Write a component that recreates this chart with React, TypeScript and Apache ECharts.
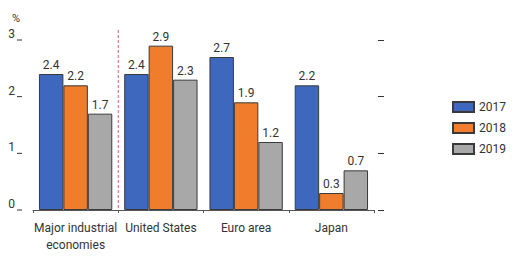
import React, { useEffect, useRef } from "react";
import * as echarts from "echarts";

const categories = ["Major industrial\neconomies", "United States", "Euro area", "Japan"];
const years = ["2017", "2018", "2019"];
const values2017 = [2.4, 2.4, 2.7, 2.2];
const values2018 = [2.2, 2.9, 1.9, 0.3];
const values2019 = [1.7, 2.3, 1.2, 0.7];
const colors = ["#3d68bd", "#f07d2b", "#a8a8a8"];
const yTicks = [0, 1, 2, 3];

const FONT = "'Roboto', sans-serif";

export default function App() {
  const ref = useRef<HTMLDivElement>(null);
  useEffect(() => {
    if (!ref.current) return;
    const chart = echarts.init(ref.current, null, { renderer: "svg" });
    const seriesData = [values2017, values2018, values2019];
    chart.setOption({
      animation: false,
      textStyle: { fontFamily: FONT },
      title: {
        text: "%",
        left: 7,
        top: 8,
        textStyle: { fontSize: 11, color: "#333", fontWeight: "normal", fontFamily: FONT },
      },
      grid: { left: 33, right: 151, top: 40, bottom: 48 },
      legend: {
        orient: "vertical",
        left: 447,
        top: 96,
        itemWidth: 21,
        itemHeight: 10,
        itemGap: 9,
        icon: "rect",
        textStyle: { fontSize: 12, color: "#333", fontFamily: FONT },
        data: years,
      },
      xAxis: {
        type: "category",
        data: categories,
        axisLine: { show: true, lineStyle: { color: "#555", width: 1 } },
        axisTick: { show: true, length: 3, lineStyle: { color: "#555" } },
        axisLabel: { interval: 0, fontSize: 12, color: "#333", lineHeight: 17, margin: 9, fontFamily: FONT },
      },
      yAxis: [
        {
          type: "value",
          min: yTicks[0],
          max: yTicks[yTicks.length - 1],
          interval: 1,
          position: "left",
          offset: 11,
          axisLine: { show: false },
          axisTick: { show: false },
          axisLabel: { fontSize: 12, color: "#333", margin: 7, fontFamily: FONT, verticalAlign: "bottom" },
          splitLine: { show: false },
        },
        {
          type: "value",
          min: yTicks[0],
          max: yTicks[yTicks.length - 1],
          interval: 1,
          position: "right",
          offset: 4,
          axisLine: { show: false },
          axisTick: { show: true, length: 6, inside: false, lineStyle: { color: "#333" } },
          axisLabel: { show: false },
          splitLine: { show: false },
        },
      ],
      series: years.map((y, i) => ({
        name: y,
        type: "bar",
        data: seriesData[i],
        barGap: "0%",
        barCategoryGap: "14%",
        itemStyle: { color: colors[i], borderColor: "#3a3a3a", borderWidth: 1 },
        label: {
          show: true,
          position: "top",
          distance: 3,
          fontSize: 12,
          color: "#333",
          fontFamily: FONT,
          formatter: (p: any) => p.value.toFixed(1),
        },
      })),
    });
    const p0 = chart.convertToPixel({ xAxisIndex: 0 }, 0) as number;
    const p1 = chart.convertToPixel({ xAxisIndex: 0 }, 1) as number;
    const yTop = chart.convertToPixel({ yAxisIndex: 0 }, yTicks[yTicks.length - 1]) as number;
    const yBot = chart.convertToPixel({ yAxisIndex: 0 }, yTicks[0]) as number;
    const xm = (p0 + p1) / 2;
    const leftTicks = yTicks.map((t) => {
      const py = chart.convertToPixel({ yAxisIndex: 0 }, t) as number;
      return {
        type: "line",
        shape: { x1: 17, y1: py, x2: 22, y2: py },
        style: { stroke: "#333", lineWidth: 1 },
      };
    });
    chart.setOption({
      graphic: [
        {
          type: "line",
          shape: { x1: xm, y1: yTop - 10, x2: xm, y2: yBot },
          style: { stroke: "#d9606a", lineWidth: 1, lineDash: [3, 2] },
          z: 10,
        },
        ...leftTicks,
      ],
    });
    return () => chart.dispose();
  }, []);
  return <div ref={ref} style={{ width: 525, height: 258, position: "absolute", left: 0, top: 0, background: "#fff" }} />;
}
